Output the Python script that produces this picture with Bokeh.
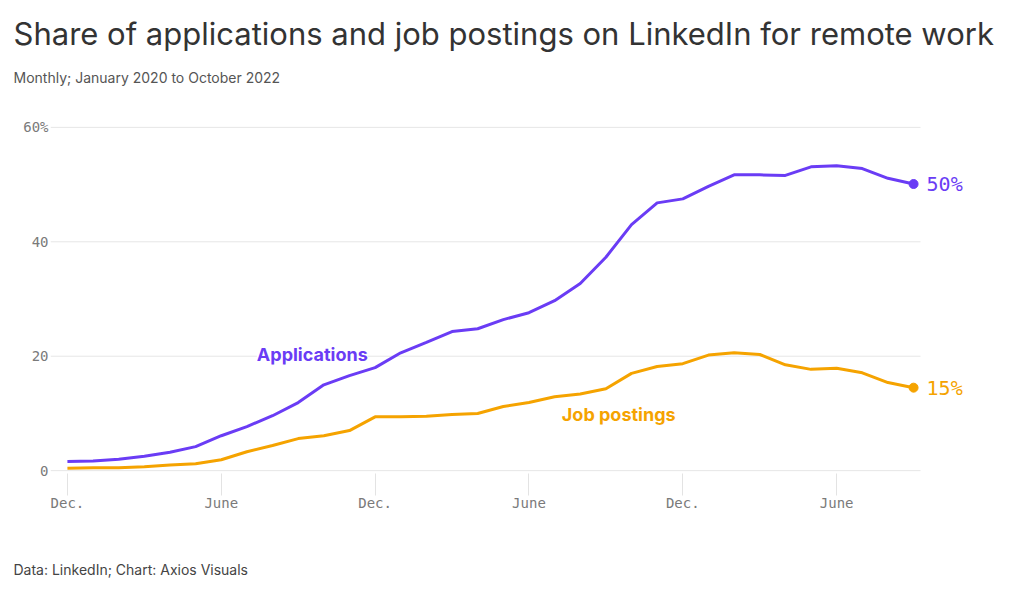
from bokeh.plotting import figure
from bokeh.models import Range1d, FixedTicker, Label, Title, ColumnDataSource
from bokeh.embed import file_html
from bokeh.resources import INLINE

# ---- data (monthly, Jan 2020 .. Oct 2022) ----
month_index = list(range(34))
applications = [1.6, 1.7, 2.0, 2.5, 3.2, 4.2, 6.1, 7.7, 9.6, 11.9, 15.0, 16.6,
                18.0, 20.6, 22.4, 24.3, 24.8, 26.4, 27.6, 29.7, 32.7, 37.3,
                43.0, 46.8, 47.5, 49.7, 51.7, 51.7, 51.6, 53.1, 53.3, 52.8,
                51.1, 50.1]
job_postings = [0.4, 0.5, 0.5, 0.7, 1.0, 1.2, 1.9, 3.3, 4.4, 5.6, 6.1, 7.0,
                9.4, 9.4, 9.5, 9.8, 10.0, 11.2, 11.9, 12.9, 13.4, 14.3, 17.0,
                18.2, 18.7, 20.2, 20.6, 20.3, 18.5, 17.7, 17.9, 17.1, 15.4,
                14.5]
x_tick_pos = [0, 6, 12, 18, 24, 30]
x_tick_labels = ["Dec.", "June", "Dec.", "June", "Dec.", "June"]
y_ticks = [0, 20, 40, 60]
y_tick_labels = ["0", "20", "40", "60%"]
end_labels = ["50%", "15%"]

PURPLE = "#6a3cf5"
ORANGE = "#f5a300"
MONO = "DejaVu Sans Mono"
SANS = "Inter"

X0, X_GRID_END, X1 = -0.66, 33.27, 36.39

p = figure(width=1012, height=590, output_backend="svg", toolbar_location=None,
           x_range=Range1d(X0, X1), y_range=Range1d(-0.5, 60.5),
           min_border_left=50, min_border_right=12, min_border_top=124,
           min_border_bottom=117)
p.outline_line_color = None
p.background_fill_color = "white"
p.border_fill_color = "white"

# axes
p.yaxis.ticker = FixedTicker(ticks=y_ticks)
p.yaxis.major_label_overrides = {t: l for t, l in zip(y_ticks, y_tick_labels)}
p.yaxis.axis_line_color = None
p.yaxis.major_tick_line_color = None
p.yaxis.minor_tick_line_color = None
p.yaxis.major_label_text_font = MONO
p.yaxis.major_label_text_font_size = "14px"
p.yaxis.major_label_text_color = "#7a7a7a"
p.yaxis.major_label_standoff = -4

p.xaxis.ticker = FixedTicker(ticks=x_tick_pos)
p.xaxis.major_label_overrides = {t: l for t, l in zip(x_tick_pos, x_tick_labels)}
p.xaxis.axis_line_color = None
p.xaxis.major_tick_line_color = "#e3e3e3"
p.xaxis.major_tick_in = 0
p.xaxis.major_tick_out = 22
p.xaxis.minor_tick_line_color = None
p.xaxis.major_label_text_font = MONO
p.xaxis.major_label_text_font_size = "14px"
p.xaxis.major_label_text_color = "#7a7a7a"
p.xaxis.major_label_standoff = -1


def spacer(gap):
    # blank, white title used only as vertical spacing inside a side panel
    return Title(text=" ", text_font_size="1px", text_color="white", standoff=gap)


p.xgrid.grid_line_color = None
p.ygrid.grid_line_color = None

# footer (below the x axis)
p.add_layout(spacer(42), "below")
p.add_layout(Title(text="Data: LinkedIn; Chart: Axios Visuals", text_font=SANS,
                   text_font_size="14px", text_font_style="normal",
                   text_color="#444444", align="left", offset=-37, standoff=0), "below")
# title + subtitle (above the frame)
p.add_layout(spacer(31), "above")
p.add_layout(Title(text="Monthly; January 2020 to October 2022", text_font=SANS,
                   text_font_size="14px", text_font_style="normal",
                   text_color="#555555", align="left", offset=-37, standoff=10), "above")
p.add_layout(Title(text="Share of applications and job postings on LinkedIn for remote work",
                   text_font=SANS, text_font_size="31px", text_font_style="normal",
                   text_color="#333333", align="left", offset=-37, standoff=19), "above")

# horizontal grid lines limited to the data area
p.segment(x0=[X0] * len(y_ticks), y0=y_ticks, x1=[X_GRID_END] * len(y_ticks),
          y1=y_ticks, line_color="#e6e6e6", line_width=1)

src = ColumnDataSource(dict(x=month_index, a=applications, j=job_postings))
p.line("x", "a", source=src, line_color=PURPLE, line_width=3)
p.line("x", "j", source=src, line_color=ORANGE, line_width=3)
p.scatter([month_index[-1]], [applications[-1]], size=9, color=PURPLE)
p.scatter([month_index[-1]], [job_postings[-1]], size=9, color=ORANGE)

p.add_layout(Label(x=month_index[-1], y=applications[-1], text=end_labels[0],
                   x_offset=13, text_font=MONO, text_font_size="20px",
                   text_color=PURPLE, text_baseline="middle"))
p.add_layout(Label(x=month_index[-1], y=job_postings[-1], text=end_labels[1],
                   x_offset=13, text_font=MONO, text_font_size="20px",
                   text_color=ORANGE, text_baseline="middle"))

p.add_layout(Label(x=9.55, y=20.3, text="Applications", text_font=SANS,
                   text_font_size="18px", text_font_style="bold", text_color=PURPLE,
                   text_align="center", text_baseline="middle",
                   background_fill_color="white"))
p.add_layout(Label(x=21.5, y=9.8, text="Job postings", text_font=SANS,
                   text_font_size="18px", text_font_style="bold", text_color=ORANGE,
                   text_align="center", text_baseline="middle"))

open("out.html", "w").write(file_html(p, INLINE))
